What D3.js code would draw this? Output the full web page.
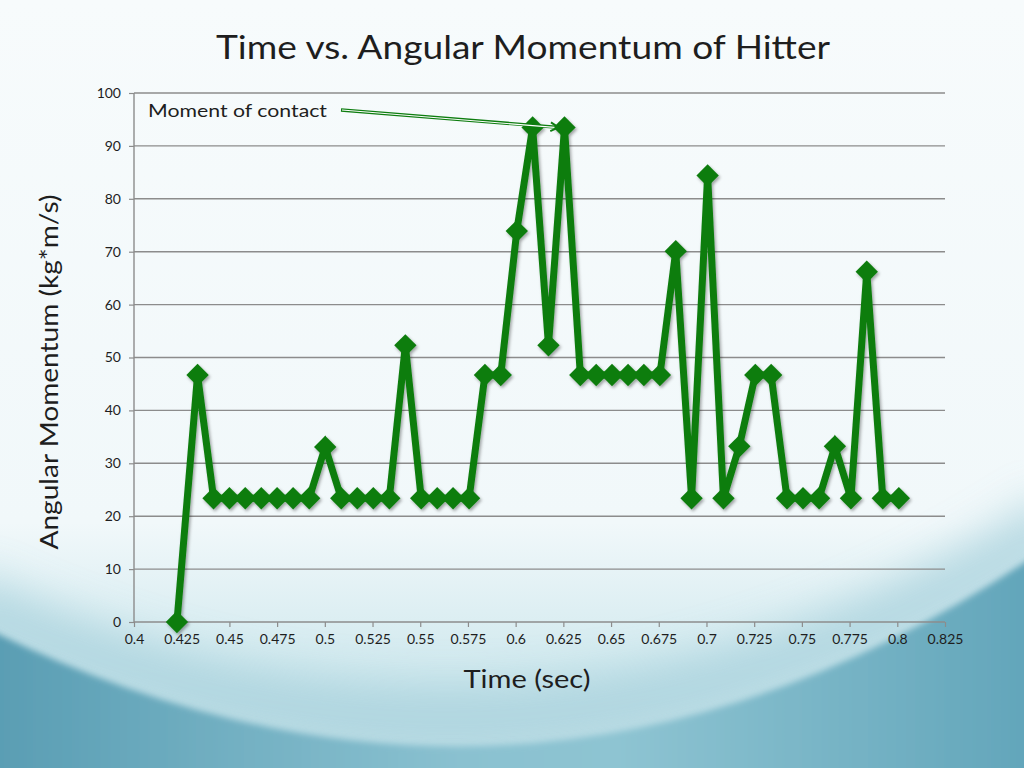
<!DOCTYPE html>
<html>
<head>
<meta charset="utf-8">
<script src="https://cdn.jsdelivr.net/npm/d3@7"></script>
<style>
  body { margin: 0; overflow: hidden; background: #f7fbfc; }
</style>
</head>
<body>
<script>
// sample times (s), roughly one frame every 1/120 s after the first
var times = [0.4225, 0.4333, 0.4417, 0.4500, 0.4583, 0.4667, 0.4750, 0.4834, 0.4918, 0.5002,
             0.5086, 0.5170, 0.5254, 0.5338, 0.5422, 0.5505, 0.5589, 0.5672, 0.5756, 0.5839,
             0.5922, 0.6006, 0.6089, 0.6172, 0.6256, 0.6339, 0.6422, 0.6505, 0.6589, 0.6672,
             0.6756, 0.6839, 0.6922, 0.7006, 0.7089, 0.7172, 0.7256, 0.7339, 0.7422, 0.7506,
             0.7590, 0.7673, 0.7757, 0.7840, 0.7924, 0.8008];
// angular momentum (kg*m/s)
var momentum = [0, 46.7, 23.4, 23.4, 23.4, 23.4, 23.4, 23.4, 23.4, 33.1,
                23.4, 23.4, 23.4, 23.4, 52.3, 23.4, 23.4, 23.4, 23.4, 46.7,
                46.7, 73.9, 93.5, 52.3, 93.5, 46.7, 46.7, 46.7, 46.7, 46.7,
                46.7, 70.1, 23.4, 84.4, 23.4, 33.2, 46.7, 46.7, 23.4, 23.4,
                23.4, 33.2, 23.4, 66.2, 23.4, 23.4];

var xTicks = [0.4, 0.425, 0.45, 0.475, 0.5, 0.525, 0.55, 0.575, 0.6, 0.625, 0.65, 0.675,
              0.7, 0.725, 0.75, 0.775, 0.8, 0.825];
var yTicks = [0, 10, 20, 30, 40, 50, 60, 70, 80, 90, 100];

var contactTime = 0.6256, contactValue = 93.5;

var width = 1024, height = 768;
var plotLeft = 134, plotRight = 945, plotTop = 93, plotBottom = 622;
var green = "#0e7d10";
var textColor = "#1e1e1e";
var font = "Lato, 'Noto Sans', sans-serif";

var svg = d3.select("body").append("svg")
    .attr("width", width)
    .attr("height", height);

var defs = svg.append("defs");

var bg = defs.append("linearGradient")
    .attr("id", "bg")
    .attr("x1", 0).attr("y1", 0).attr("x2", 0).attr("y2", 1);
bg.append("stop").attr("offset", "0").attr("stop-color", "#f7fbfc");
bg.append("stop").attr("offset", "0.68").attr("stop-color", "#f1f8fa");
bg.append("stop").attr("offset", "0.86").attr("stop-color", "#d3eaef");
bg.append("stop").attr("offset", "1").attr("stop-color", "#bcdde5");

var band = defs.append("linearGradient")
    .attr("id", "band")
    .attr("x1", 0).attr("y1", 0).attr("x2", 1).attr("y2", 0);
band.append("stop").attr("offset", "0").attr("stop-color", "#599db3");
band.append("stop").attr("offset", "0.45").attr("stop-color", "#8ac1d0");
band.append("stop").attr("offset", "0.6").attr("stop-color", "#8ec4d2");
band.append("stop").attr("offset", "1").attr("stop-color", "#62a5ba");

var soft = defs.append("filter").attr("id", "soft")
    .attr("x", "-30%").attr("y", "-30%").attr("width", "160%").attr("height", "160%");
soft.append("feGaussianBlur").attr("stdDeviation", 3);

var haze = defs.append("filter").attr("id", "haze")
    .attr("x", "-30%").attr("y", "-30%").attr("width", "160%").attr("height", "160%");
haze.append("feGaussianBlur").attr("stdDeviation", 22);

var shadow = defs.append("filter").attr("id", "shadow")
    .attr("x", "-20%").attr("y", "-20%").attr("width", "140%").attr("height", "140%");
shadow.append("feDropShadow")
    .attr("dx", 1.5).attr("dy", 2).attr("stdDeviation", 1.6)
    .attr("flood-color", "#000").attr("flood-opacity", 0.35);

// background
svg.append("rect")
    .attr("width", width).attr("height", height)
    .attr("fill", "url(#bg)");

// blue haze above the arc at the sides
svg.append("path")
    .attr("d", "M-40,600 Q528,870 1064,520")
    .attr("fill", "none")
    .attr("stroke", "#a9d2dd")
    .attr("stroke-width", 60)
    .attr("opacity", 0.8)
    .attr("filter", "url(#haze)");

// teal band below the arc
svg.append("path")
    .attr("d", "M-10,630 Q528,895 1034,556 L1034,778 L-10,778 Z")
    .attr("fill", "url(#band)")
    .attr("filter", "url(#soft)");

var x = d3.scaleLinear().domain([0.4, 0.825]).range([plotLeft, plotRight]);
var y = d3.scaleLinear().domain([0, 100]).range([plotBottom, plotTop]);

// gridlines
svg.append("g")
    .selectAll("line")
    .data(yTicks.filter(function(d) { return d > 0; }))
    .enter().append("line")
    .attr("x1", plotLeft).attr("x2", plotRight)
    .attr("y1", function(d) { return y(d); })
    .attr("y2", function(d) { return y(d); })
    .attr("stroke", "#8c8c8c")
    .attr("stroke-width", 1.4);

// axes
var yAxis = d3.axisLeft(y).tickValues(yTicks).tickSize(5).tickPadding(8)
    .tickFormat(d3.format("d"));
var xAxis = d3.axisBottom(x).tickValues(xTicks).tickSize(5).tickPadding(7)
    .tickFormat(function(d) { return String(+d.toFixed(3)); });

var gy = svg.append("g")
    .attr("transform", "translate(" + plotLeft + ",0)")
    .call(yAxis);
var gx = svg.append("g")
    .attr("transform", "translate(0," + plotBottom + ")")
    .call(xAxis);

[gx, gy].forEach(function(g) {
    g.select(".domain").attr("stroke", "#8c8c8c").attr("stroke-width", 1.4);
    g.selectAll(".tick line").attr("stroke", "#8c8c8c").attr("stroke-width", 1.2);
    g.selectAll(".tick text")
        .attr("fill", textColor)
        .style("font-family", font)
        .style("font-size", "14px");
});
gy.select(".domain").attr("d", "M0," + plotBottom + "V" + plotTop);
gx.select(".domain").attr("d", "M" + plotLeft + ",0H" + plotRight);

// series
var points = times.map(function(t, i) { return { t: t, v: momentum[i] }; });

var line = d3.line()
    .x(function(d) { return x(d.t); })
    .y(function(d) { return y(d.v); });

var series = svg.append("g").attr("filter", "url(#shadow)");

series.append("path")
    .datum(points)
    .attr("d", line)
    .attr("fill", "none")
    .attr("stroke", green)
    .attr("stroke-width", 7)
    .attr("stroke-linejoin", "miter");

series.selectAll(".marker")
    .data(points)
    .enter().append("path")
    .attr("class", "marker")
    .attr("d", d3.symbol().type(d3.symbolSquare).size(250))
    .attr("transform", function(d) {
        return "translate(" + x(d.t) + "," + y(d.v) + ") rotate(45)";
    })
    .attr("fill", green);

// annotation
svg.append("text")
    .attr("x", 148).attr("y", 117)
    .attr("fill", textColor)
    .style("font-family", font)
    .style("font-size", "18px")
    .attr("textLength", 179)
    .attr("lengthAdjust", "spacingAndGlyphs")
    .text("Moment of contact");

var ax0 = 341, ay0 = 110;
var ax1 = x(contactTime) - 6, ay1 = y(contactValue);
var arrow = svg.append("g");
arrow.append("line")
    .attr("x1", ax0).attr("y1", ay0).attr("x2", ax1).attr("y2", ay1)
    .attr("stroke", green).attr("stroke-width", 3.4);
arrow.append("line")
    .attr("x1", ax0 + 1).attr("y1", ay0).attr("x2", ax1 - 4).attr("y2", ay1)
    .attr("stroke", "#ffffff").attr("stroke-width", 1.2);
var ang = Math.atan2(ay1 - ay0, ax1 - ax0);
var hl = 9, ha = 0.5;
arrow.append("path")
    .attr("d", "M" + (ax1 - hl * Math.cos(ang - ha)) + "," + (ay1 - hl * Math.sin(ang - ha)) +
               "L" + ax1 + "," + ay1 +
               "L" + (ax1 - hl * Math.cos(ang + ha)) + "," + (ay1 - hl * Math.sin(ang + ha)))
    .attr("fill", "none")
    .attr("stroke", green)
    .attr("stroke-width", 2);

// titles
svg.append("text")
    .attr("x", 523).attr("y", 59)
    .attr("text-anchor", "middle")
    .attr("fill", textColor)
    .style("font-family", font)
    .style("font-size", "32px")
    .attr("textLength", 614)
    .attr("lengthAdjust", "spacingAndGlyphs")
    .text("Time vs. Angular Momentum of Hitter");

svg.append("text")
    .attr("transform", "translate(58,372) rotate(-90)")
    .attr("text-anchor", "middle")
    .attr("fill", textColor)
    .style("font-family", font)
    .style("font-size", "25px")
    .attr("textLength", 355)
    .attr("lengthAdjust", "spacingAndGlyphs")
    .text("Angular Momentum (kg*m/s)");

svg.append("text")
    .attr("x", 527).attr("y", 688)
    .attr("text-anchor", "middle")
    .attr("fill", textColor)
    .style("font-family", font)
    .style("font-size", "25px")
    .attr("textLength", 127)
    .attr("lengthAdjust", "spacingAndGlyphs")
    .text("Time (sec)");
</script>
</body>
</html>
